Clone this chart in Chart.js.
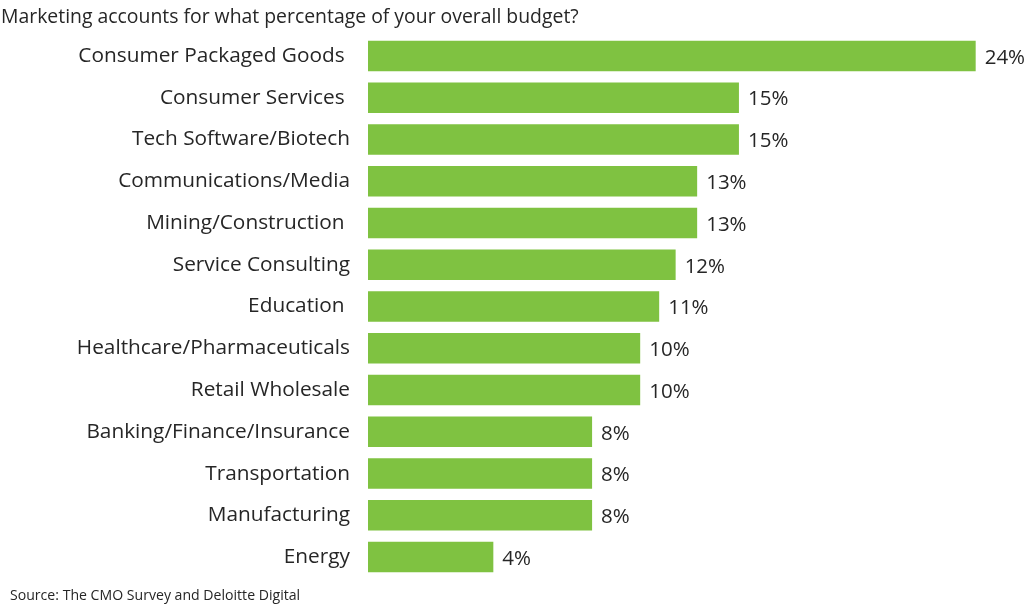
<!DOCTYPE html>
<html>
<head>
<meta charset="utf-8">
<script src="https://cdn.jsdelivr.net/npm/chart.js@4"></script>
<style>
  body { margin: 0; background: #fff; font-family: "Open Sans", sans-serif; }
  .wrap { position: relative; width: 1026px; height: 605px; }
  .title { position: absolute; left: 1px; top: 2px; font-size: 19.4px; color: #262626; }
  .source { position: absolute; left: 10px; top: 585px; font-size: 14.1px; color: #262626; }
</style>
</head>
<body>
<div class="wrap">
  <canvas id="myChart" width="1026" height="605"></canvas>
  <div class="title">Marketing accounts for what percentage of your overall budget?</div>
  <div class="source">Source: The CMO Survey and Deloitte Digital</div>
</div>
<script>
const categories = [
  "Consumer Packaged Goods ", "Consumer Services ", "Tech Software/Biotech",
  "Communications/Media", "Mining/Construction ", "Service Consulting",
  "Education ", "Healthcare/Pharmaceuticals", "Retail Wholesale",
  "Banking/Finance/Insurance", "Transportation", "Manufacturing", "Energy"
];
// bar lengths as drawn in the picture
const values = [24, 14.65, 14.65, 13.0, 13.0, 12.15, 11.5, 10.75, 10.75, 8.85, 8.85, 8.85, 4.95];
// percentages as printed next to the bars
const shownLabels = ["24%", "15%", "15%", "13%", "13%", "12%", "11%", "10%", "10%", "8%", "8%", "8%", "4%"];

const valueLabels = {
  id: 'valueLabels',
  afterDatasetsDraw(chart) {
    const ctx = chart.ctx;
    const meta = chart.getDatasetMeta(0);
    ctx.save();
    ctx.font = '20.5px "Open Sans"';
    ctx.fillStyle = '#262626';
    ctx.textBaseline = 'middle';
    ctx.textAlign = 'left';
    meta.data.forEach((bar, i) => {
      ctx.fillText(shownLabels[i], bar.x + 9, bar.y + 2);
    });
    ctx.restore();
  }
};

const ctx = document.getElementById("myChart").getContext('2d');
new Chart(ctx, {
  type: "bar",
  data: {
    labels: categories,
    datasets: [{
      data: values,
      backgroundColor: "#7FC241",
      borderWidth: 0,
      barPercentage: 0.73,
      categoryPercentage: 1,
    }]
  },
  options: {
    indexAxis: 'y',
    responsive: false,
    animation: false,
    layout: { padding: { top: 35, bottom: 27, left: 0, right: 25 } },
    plugins: {
      legend: { display: false },
      tooltip: { enabled: false },
    },
    scales: {
      x: {
        display: false,
        min: 0,
        max: 25,
      },
      y: {
        grid: { display: false },
        border: { display: false },
        ticks: {
          color: '#262626',
          font: { family: 'Open Sans', size: 20.8 },
          padding: 10,
        },
        afterFit(scale) { scale.width = 368; },
      },
    }
  },
  plugins: [valueLabels],
});
</script>
</body>
</html>
